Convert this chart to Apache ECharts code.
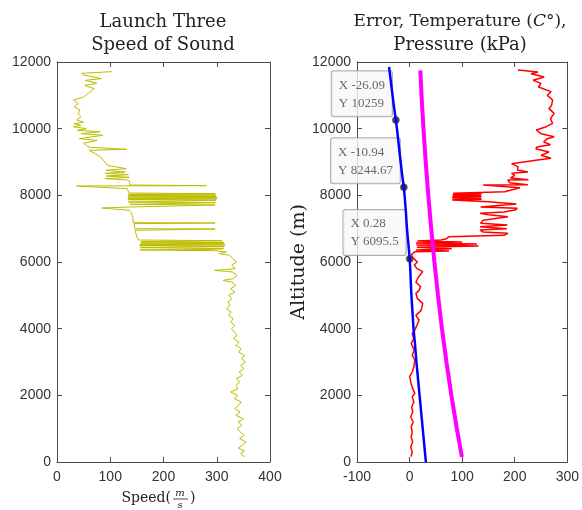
<!DOCTYPE html>
<html>
<head>
<meta charset="utf-8">
<script src="https://cdn.jsdelivr.net/npm/echarts@6/dist/echarts.min.js"></script>
<style>
html, body { margin: 0; padding: 0; background: #fff; }
#main { width: 582px; height: 510px; }
</style>
</head>
<body>
<div id="main"></div>
<script>
// left panel: speed of sound vs altitude
var speedAlt = [150,250,330,420,500,600,700,800,900,1000,1100,1200,1300,1400,1500,1600,1700,1800,1900,2000,
  2100,2200,2300,2400,2500,2600,2700,2800,2900,3000,3100,3200,3300,3400,3500,3600,3700,3800,3900,4000,
  4100,4200,4300,4400,4500,4600,4700,4800,4900,5000,5100,5200,5300,5400,5450,5500,5600,5700,5750,5800,
  5900,6000,6100,6200,6250,6300,6340,6360,6380,6400,6430,6460,6490,6510,6530,6550,6570,6590,6610,6640,
  6660,6700,6750,6800,6870,6950,6990,7000,7060,7150,7170,7180,7300,7400,7470,7550,7620,7650,7700,7710,
  7730,7780,7800,7850,7870,7890,7910,7930,7950,7970,7990,8010,8030,8050,8070,8100,8200,8280,8290,8310,
  8400,8460,8500,8540,8580,8620,8660,8700,8750,8800,8860,8900,9000,9060,9160,9250,9350,9380,9440,9500,
  9560,9650,9700,9800,9850,9910,9950,10000,10060,10100,10150,10200,10260,10360,10450,10560,10650,10750,10860,10950,
  11060,11200,11300,11360,11450,11500,11560,11610,11660,11710];
var speed = [352,345,352,340,348,355,343,351,345,338,347,340,350,336,344,334,341,346,333,339,
  326,340,336,343,337,348,342,351,345,354,347,352,341,346,336,342,331,338,333,328,
  334,326,331,322,327,318,325,321,329,322,334,326,336,328,312,332,338,330,296,335,
  328,337,330,324,305,318,296,156,294,313,156,314,155,316,156,314,157,313,158,310,
  153,152,150,151,148,146,297,146,144,145,297,143,143,141,140,136,84,136,137,297,
  137,298,134,299,134,300,133,301,133,299,134,298,134,297,135,134,132,37,281,136,
  137,133,91,136,92,134,90,128,92,130,131,95,90,88,81,72,60,131,62,55,
  50,75,42,86,45,81,38,55,30,45,32,50,37,45,40,43,32,40,31,50,
  59,70,52,75,53,84,84,50,46,103];

// right panel: blue, magenta and red traces
var blueAlt = [0,500,1000,1500,2000,2500,3000,3500,4000,4500,5000,5500,5900,6095.5,6500,7000,7500,8000,8244.67,8600,9000,9500,10000,10259,10700,11200,11850];
var blueVal = [31,28,25,22,19,16,13,10.5,7.5,5.5,3.5,2,1,0.28,-2,-5,-7,-9.5,-10.94,-14,-17,-20.5,-24,-26.09,-30,-34,-39];

var pressAlt = [150,1000,2000,3000,4000,5000,6000,7000,8000,9000,10000,11000,11750];
var pressVal = [99.5,89.9,79.5,70.1,61.6,54.0,47.2,41.1,35.6,30.7,26.4,22.7,20.5];

var tempAlt = [160,300,450,600,750,900,1060,1200,1350,1500,1650,1800,1950,2060,2200,2350,2560,2700,2850,3060,
  3200,3350,3560,3700,3850,3960,4100,4260,4400,4550,4760,4900,5060,5150,5260,5400,5550,5710,5800,5910,
  6000,6100,6210,6310,6330,6360,6400,6440,6480,6510,6540,6570,6600,6630,6660,6700,6760,6800,6860,6900,
  6960,7000,7060,7110,7160,7250,7360,7420,7460,7500,7560,7610,7650,7710,7740,7810,7860,7880,7900,7920,
  7940,7960,7980,8000,8020,8040,8060,8110,8160,8230,8310,8320,8380,8460,8470,8520,8600,8660,8700,8760,
  8860,8950,9010,9050,9110,9200,9300,9400,9460,9520,9600,9700,9760,9850,9960,10060,10160,10300,10460,10600,
  10700,10860,11000,11110,11250,11360,11450,11550,11650,11700,11760];
var tempVal = [3,5,2,6,3,5,3,7,2,6,4,8,5,10,6,3,0,5,8,10,
  5,9,3,8,5,10,14,18,12,22,25,15,12,18,21,12,17,25,14,9,
  15,8,3,10,75,12,80,14,131,13,128,12,100,15,60,70,75,180,187,140,
  134,185,134,186,135,140,187,150,134,180,200,205,135,134,203,150,81,137,82,136,
  81,137,82,136,82,137,83,181,181,210,140,225,190,187,226,192,200,194,225,205,
  206,194,194,240,269,250,265,240,244,268,255,262,275,250,241,260,272,268,275,265,
  270,272,262,269,245,250,235,256,231,244,206];

var tipX = [-26.09, -10.94, 0.28];
var tipY = [10259, 8244.67, 6095.5];

var xTicksLeft = [0, 400, 100];
var xTicksRight = [-100, 300, 100];
var yTicks = [0, 12000, 2000];

function pairs(xs, ys) {
  return xs.map(function (x, i) { return [x, ys[i]]; });
}

var chart = echarts.init(document.getElementById('main'));
var lineCol = '#4a4a4a';
var serif = 'DejaVu Serif';
var labelFont = {
  color: '#333', fontSize: 14, fontFamily: 'Liberation Sans', margin: 6,
  formatter: function (v) { return String(v); }
};

function xAx(grid, t, pos, showLabel) {
  return {
    type: 'value', gridIndex: grid, position: pos, min: t[0], max: t[1], interval: t[2],
    axisLine: { show: true, onZero: false, lineStyle: { color: lineCol, width: 1 } },
    axisTick: { show: true, inside: true, length: 5, lineStyle: { color: lineCol } },
    axisLabel: Object.assign({ show: showLabel }, labelFont, { margin: 8 }),
    splitLine: { show: false }
  };
}
function yAx(grid, pos, showLabel) {
  return {
    type: 'value', gridIndex: grid, position: pos, min: yTicks[0], max: yTicks[1], interval: yTicks[2],
    axisLine: { show: true, onZero: false, lineStyle: { color: lineCol, width: 1 } },
    axisTick: { show: true, inside: true, length: 5, lineStyle: { color: lineCol } },
    axisLabel: Object.assign({ show: showLabel }, labelFont),
    splitLine: { show: false }
  };
}

var yRight = yAx(1, 'left', true);
yRight.name = 'Altitude (m)';
yRight.nameLocation = 'middle';
yRight.nameGap = 48;
yRight.nameTextStyle = { fontFamily: serif, fontSize: 19, color: '#222' };

function txt(x, y, s, font, align) {
  return { type: 'text', x: x, y: y, style: { text: s, font: font, fill: '#222', align: align, verticalAlign: 'middle', textAlign: align, textVerticalAlign: 'middle' } };
}

var option = {
  animation: false,
  grid: [
    { left: 57, top: 62, width: 213, height: 400 },
    { left: 357, top: 62, width: 213, height: 400 }
  ],
  xAxis: [
    xAx(0, xTicksLeft, 'bottom', true),
    xAx(0, xTicksLeft, 'top', false),
    xAx(1, xTicksRight, 'bottom', true),
    xAx(1, xTicksRight, 'top', false)
  ],
  yAxis: [
    yAx(0, 'left', true),
    yAx(0, 'right', false),
    yRight,
    yAx(1, 'right', false)
  ],
  graphic: [
    txt(163, 22, 'Launch Three', '18px "DejaVu Serif"', 'center'),
    txt(163, 45, 'Speed of Sound', '18px "DejaVu Serif"', 'center'),
    { type: 'text', x: 460, y: 22, style: {
        text: '{a|Error, Temperature (}{b|C}{a|°),}', fill: '#222', align: 'center', verticalAlign: 'middle', textAlign: 'center', textVerticalAlign: 'middle',
        rich: { a: { fontFamily: serif, fontSize: 17, color: '#222' }, b: { fontFamily: serif, fontSize: 17, fontStyle: 'italic', color: '#222' } } } },
    txt(460, 45, 'Pressure (kPa)', '18px "DejaVu Serif"', 'center'),
    // x-axis name of left panel: Speed(m/s) with a stacked fraction
    txt(171, 498, 'Speed(', '14px "DejaVu Serif"', 'right'),
    txt(180, 493, 'm', 'italic 10px "DejaVu Serif"', 'center'),
    { type: 'line', shape: { x1: 173, y1: 499, x2: 188, y2: 499 }, style: { stroke: '#222', lineWidth: 0.8 } },
    txt(180, 505, 's', 'italic 10px "DejaVu Serif"', 'center'),
    txt(190, 498, ')', '14px "DejaVu Serif"', 'left')
  ],
  series: [
    {
      type: 'line', xAxisIndex: 0, yAxisIndex: 0, showSymbol: false, silent: true,
      lineStyle: { color: '#bcbc00', width: 1 },
      data: pairs(speed, speedAlt)
    },
    {
      type: 'line', xAxisIndex: 2, yAxisIndex: 2, showSymbol: false, silent: true,
      lineStyle: { color: '#ff0000', width: 1.5 },
      data: pairs(tempVal, tempAlt)
    },
    {
      type: 'line', xAxisIndex: 2, yAxisIndex: 2, showSymbol: false, silent: true,
      lineStyle: { color: '#ff00ff', width: 4 },
      data: pairs(pressVal, pressAlt)
    },
    {
      type: 'line', xAxisIndex: 2, yAxisIndex: 2, showSymbol: false, silent: true,
      lineStyle: { color: '#0000ff', width: 2.5 },
      data: pairs(blueVal, blueAlt)
    },
    {
      type: 'scatter', xAxisIndex: 2, yAxisIndex: 2, symbolSize: 7, silent: true,
      itemStyle: { color: '#111', borderColor: '#6b6b2a', borderWidth: 0.8 },
      label: {
        show: true, position: [0, 0], align: 'right', verticalAlign: 'bottom',
        formatter: function (p) { return '{t|X ' + p.value[0] + '}\n{t|Y ' + p.value[1] + '}'; },
        rich: { t: { align: 'left', fontFamily: 'Liberation Serif', fontSize: 13, lineHeight: 18, color: '#444' } },
        backgroundColor: '#f7f7fa', borderColor: '#9a9a9a', borderWidth: 1, borderRadius: 2,
        padding: [5, 7, 4, 7]
      },
      data: pairs(tipX, tipY)
    }
  ]
};
chart.setOption(option);
</script>
</body>
</html>
